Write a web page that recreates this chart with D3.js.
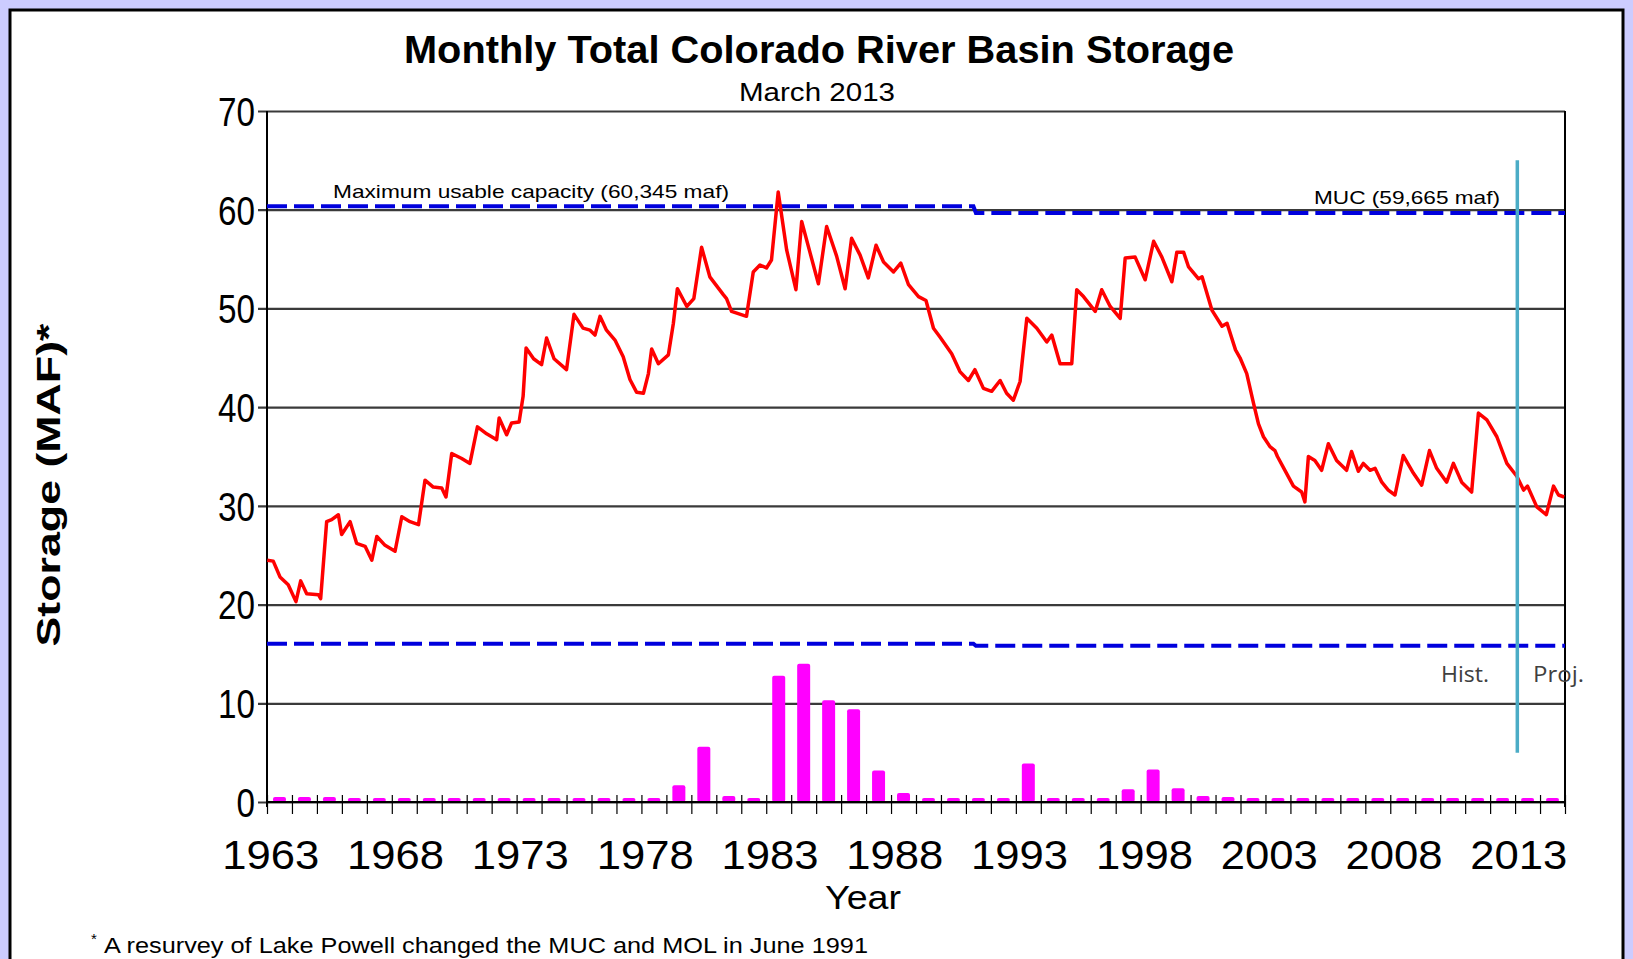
<!DOCTYPE html>
<html>
<head>
<meta charset="utf-8">
<script src="https://cdn.jsdelivr.net/npm/d3@7"></script>
<style>
  body { margin: 0; background: #ccccff; overflow: hidden; }
  text { font-family: "Liberation Sans", Arial, sans-serif; fill: #000; }
</style>
</head>
<body>
<div id="chart"></div>
<script>
'use strict';

// one bar per year, 1963 - 2014
var barYears = d3.range(1963, 2015);
var barValues = [
  0.5, 0.5, 0.5, 0.4, 0.4, 0.4, 0.4, 0.4, 0.4, 0.4,
  0.4, 0.4, 0.4, 0.4, 0.4, 0.4, 1.7, 5.6, 0.6, 0.4,
  12.8, 14.0, 10.3, 9.4, 3.2, 0.9, 0.4, 0.4, 0.4, 0.4,
  3.9, 0.4, 0.4, 0.4, 1.3, 3.3, 1.4, 0.6, 0.5, 0.4,
  0.4, 0.4, 0.4, 0.4, 0.4, 0.4, 0.4, 0.4, 0.4, 0.4,
  0.4, 0.4
];

// monthly storage trace, decimal year and maf
var storageYears = [
  1963.01, 1963.25, 1963.52, 1963.85, 1964.16, 1964.35, 1964.59, 1965.06, 1965.15, 1965.39,
  1965.59, 1965.86, 1965.99, 1966.33, 1966.59, 1966.93, 1967.20, 1967.40, 1967.73, 1968.13,
  1968.40, 1968.73, 1969.07, 1969.33, 1969.66, 1970.00, 1970.17, 1970.40, 1970.80, 1971.13,
  1971.43, 1971.80, 1972.20, 1972.30, 1972.60, 1972.80, 1973.10, 1973.26, 1973.38, 1973.68,
  1974.00, 1974.20, 1974.50, 1975.00, 1975.30, 1975.66, 1975.94, 1976.14, 1976.34, 1976.60,
  1976.94, 1977.27, 1977.54, 1977.81, 1978.08, 1978.28, 1978.41, 1978.68, 1979.08, 1979.28,
  1979.44, 1979.82, 1980.10, 1980.41, 1980.74, 1981.28, 1981.41, 1981.61, 1982.21, 1982.48,
  1982.75, 1983.01, 1983.21, 1983.48, 1983.82, 1984.19, 1984.42, 1984.76, 1985.09, 1985.42,
  1985.82, 1986.16, 1986.42, 1986.76, 1987.09, 1987.40, 1987.70, 1988.10, 1988.39, 1988.70,
  1989.10, 1989.40, 1989.70, 1989.96, 1990.43, 1990.76, 1991.10, 1991.36, 1991.70, 1992.03,
  1992.37, 1992.63, 1992.90, 1993.17, 1993.44, 1993.84, 1994.24, 1994.44, 1994.77, 1995.24,
  1995.44, 1995.71, 1996.18, 1996.44, 1996.78, 1997.18, 1997.38, 1997.78, 1998.18, 1998.52,
  1998.85, 1999.25, 1999.45, 1999.72, 1999.92, 2000.32, 2000.46, 2000.86, 2001.26, 2001.46,
  2001.80, 2001.98, 2002.25, 2002.52, 2002.72, 2002.92, 2003.18, 2003.38, 2003.48, 2003.78,
  2004.12, 2004.45, 2004.58, 2004.72, 2004.98, 2005.25, 2005.52, 2005.85, 2006.25, 2006.45,
  2006.72, 2006.92, 2007.19, 2007.39, 2007.66, 2007.92, 2008.19, 2008.52, 2008.93, 2009.26,
  2009.57, 2009.86, 2010.26, 2010.53, 2010.86, 2011.26, 2011.53, 2011.87, 2012.27, 2012.67,
  2013.07, 2013.34, 2013.50, 2013.87, 2014.25, 2014.54, 2014.74, 2014.97
];
var storageMaf = [
  24.5, 24.4, 22.8, 22.0, 20.3, 22.4, 21.1, 21.0, 20.6, 28.4,
  28.6, 29.1, 27.1, 28.4, 26.2, 25.9, 24.5, 26.9, 26.0, 25.4,
  28.9, 28.4, 28.1, 32.6, 31.9, 31.8, 30.9, 35.3, 34.8, 34.3,
  38.0, 37.3, 36.7, 38.9, 37.2, 38.4, 38.5, 41.1, 46.0, 44.9,
  44.3, 47.0, 44.9, 43.8, 49.4, 48.0, 47.8, 47.3, 49.2, 47.8,
  46.8, 45.1, 42.8, 41.5, 41.4, 43.4, 45.9, 44.4, 45.3, 48.5,
  52.0, 50.2, 51.0, 56.2, 53.2, 51.4, 51.0, 49.7, 49.2, 53.7,
  54.4, 54.1, 54.9, 61.8, 55.9, 51.9, 58.8, 55.6, 52.5, 58.3,
  55.3, 52.0, 57.1, 55.4, 53.1, 56.4, 54.7, 53.7, 54.6, 52.4,
  51.2, 50.8, 48.0, 47.1, 45.4, 43.6, 42.7, 43.8, 41.9, 41.6,
  42.7, 41.4, 40.7, 42.6, 49.0, 48.0, 46.6, 47.3, 44.4, 44.4,
  51.9, 51.2, 49.7, 51.9, 50.2, 49.0, 55.1, 55.2, 52.9, 56.8,
  55.2, 52.7, 55.7, 55.7, 54.2, 53.0, 53.2, 49.8, 48.2, 48.5,
  45.8, 45.0, 43.4, 40.4, 38.3, 37.0, 36.0, 35.6, 35.0, 33.6,
  32.0, 31.4, 30.4, 35.0, 34.6, 33.6, 36.3, 34.6, 33.6, 35.5,
  33.5, 34.3, 33.6, 33.8, 32.4, 31.6, 31.1, 35.1, 33.3, 32.1,
  35.6, 33.8, 32.4, 34.3, 32.4, 31.4, 39.4, 38.7, 37.0, 34.3,
  33.0, 31.6, 32.0, 29.9, 29.1, 32.0, 31.1, 30.9
];

// capacity lines, stepped by the 1991 Lake Powell resurvey
var mucYears = [1963, 1991.3, 1991.4, 2015];
var mucMaf = [60.345, 60.345, 59.665, 59.665];
var molYears = [1963, 1991.3, 1991.4, 2015];
var molMaf = [16.03, 16.03, 15.82, 15.82];

var yTicks = [0, 10, 20, 30, 40, 50, 60, 70];
var yearLabels = [1963, 1968, 1973, 1978, 1983, 1988, 1993, 1998, 2003, 2008, 2013];

// historic / projected split (March 2013)
var splitYear = 2013.09;
var splitRange = [5, 65];

var W = 1633, H = 959;
var margin = { left: 267, right: 1565, top: 111, bottom: 802 };

var svg = d3.select('#chart')
  .append('svg')
    .attr('width', W)
    .attr('height', H);

// lavender frame and white slide panel
svg.append('rect')
    .attr('width', W)
    .attr('height', H)
    .style('fill', '#ccccff');
svg.append('rect')
    .attr('x', 10)
    .attr('y', 10)
    .attr('width', 1613)
    .attr('height', H + 10)
    .style('fill', '#fff')
    .style('stroke', '#000')
    .style('stroke-width', 3);

var x = d3.scaleLinear()
    .domain([1963, 2015])
    .range([margin.left, margin.right]);
var y = d3.scaleLinear()
    .domain([0, 70])
    .range([margin.bottom, margin.top]);

// horizontal gridlines plus outer ticks
var yAxis = svg.append('g')
    .attr('transform', 'translate(' + margin.left + ',0)')
    .call(d3.axisLeft(y)
      .tickValues(yTicks)
      .tickSize(-(margin.right - margin.left))
      .tickFormat(''));
yAxis.select('.domain').remove();
yAxis.selectAll('.tick line')
    .attr('x1', -9)
    .style('stroke', '#3a3a3a')
    .style('stroke-width', 2.2);

// y tick labels, narrow like the original (about 18.5px per digit)
yAxis.selectAll('.tick')
  .append('text')
    .attr('x', -12)
    .attr('dy', '0.36em')
    .attr('text-anchor', 'end')
    .attr('textLength', function (d) { return String(d).length * 18.5; })
    .attr('lengthAdjust', 'spacingAndGlyphs')
    .style('font-size', '40px')
    .style('fill', '#000')
    .text(function (d) { return d; });

// x ticks at year boundaries
var xAxis = svg.append('g')
    .attr('transform', 'translate(0,' + margin.bottom + ')')
    .call(d3.axisBottom(x)
      .tickValues(d3.range(1963, 2016))
      .tickSize(12)
      .tickFormat(''));
xAxis.select('.domain').remove();
xAxis.selectAll('.tick line')
    .attr('y1', -7)
    .style('stroke', '#000')
    .style('stroke-width', 1.2);

// year labels
svg.append('g').selectAll('text')
    .data(yearLabels)
  .enter().append('text')
    .attr('x', function (d) { return x(d + 0.15); })
    .attr('y', 869)
    .attr('text-anchor', 'middle')
    .attr('textLength', 97)
    .attr('lengthAdjust', 'spacingAndGlyphs')
    .style('font-size', '41px')
    .text(function (d) { return d; });

// bars
svg.append('g').selectAll('rect')
    .data(barValues)
  .enter().append('rect')
    .attr('x', function (d, i) { return x(barYears[i] + 0.5) - 6.5; })
    .attr('y', function (d) { return y(d); })
    .attr('width', 13)
    .attr('height', function (d) { return y(0) - y(d); })
    .attr('rx', 2)
    .style('fill', '#ff00ff');

// plot frame: left axis, right edge, zero line
svg.append('line')
    .attr('x1', margin.left).attr('x2', margin.left)
    .attr('y1', margin.top).attr('y2', margin.bottom + 5)
    .style('stroke', '#000').style('stroke-width', 2);
svg.append('line')
    .attr('x1', margin.right).attr('x2', margin.right)
    .attr('y1', margin.top).attr('y2', margin.bottom + 5)
    .style('stroke', '#000').style('stroke-width', 2);
svg.append('line')
    .attr('x1', margin.left).attr('x2', margin.right)
    .attr('y1', y(0)).attr('y2', y(0))
    .style('stroke', '#000').style('stroke-width', 2);

// capacity dashed lines
var stepLine = d3.line()
    .x(function (d) { return x(d[0]); })
    .y(function (d) { return y(d[1]); });

svg.append('path')
    .datum(d3.zip(mucYears, mucMaf))
    .attr('d', stepLine)
    .style('fill', 'none')
    .style('stroke', '#0000dd')
    .style('stroke-width', 4)
    .style('stroke-dasharray', '20,7');
svg.append('path')
    .datum(d3.zip(molYears, molMaf))
    .attr('d', stepLine)
    .style('fill', 'none')
    .style('stroke', '#0000dd')
    .style('stroke-width', 4)
    .style('stroke-dasharray', '20,7');

// storage line
svg.append('path')
    .datum(d3.zip(storageYears, storageMaf))
    .attr('d', stepLine)
    .style('fill', 'none')
    .style('stroke', '#ff0000')
    .style('stroke-width', 3.5)
    .style('stroke-linejoin', 'round');

// hist / proj divider
svg.append('line')
    .attr('x1', x(splitYear)).attr('x2', x(splitYear))
    .attr('y1', y(splitRange[1])).attr('y2', y(splitRange[0]))
    .style('stroke', '#4bacc6')
    .style('stroke-width', 3.5);

svg.append('text')
    .attr('x', 1441)
    .attr('y', 682)
    .attr('textLength', 48)
    .attr('lengthAdjust', 'spacingAndGlyphs')
    .style('font-family', '"Open Sans", sans-serif')
    .style('font-size', '22px')
    .style('fill', '#404040')
    .text('Hist.');
svg.append('text')
    .attr('x', 1533)
    .attr('y', 682)
    .attr('textLength', 51)
    .attr('lengthAdjust', 'spacingAndGlyphs')
    .style('font-family', '"Open Sans", sans-serif')
    .style('font-size', '22px')
    .style('fill', '#404040')
    .text('Proj.');

// capacity labels
svg.append('text')
    .attr('x', 333)
    .attr('y', 198)
    .attr('textLength', 396)
    .attr('lengthAdjust', 'spacingAndGlyphs')
    .style('font-size', '19px')
    .text('Maximum usable capacity (60,345 maf)');
svg.append('text')
    .attr('x', 1314)
    .attr('y', 204)
    .attr('textLength', 186)
    .attr('lengthAdjust', 'spacingAndGlyphs')
    .style('font-size', '19px')
    .text('MUC (59,665 maf)');

// titles
svg.append('text')
    .attr('x', 819)
    .attr('y', 63)
    .attr('text-anchor', 'middle')
    .attr('textLength', 830)
    .attr('lengthAdjust', 'spacingAndGlyphs')
    .style('font-size', '39px')
    .style('font-weight', 'bold')
    .text('Monthly Total Colorado River Basin Storage');
svg.append('text')
    .attr('x', 817)
    .attr('y', 101)
    .attr('text-anchor', 'middle')
    .attr('textLength', 156)
    .attr('lengthAdjust', 'spacingAndGlyphs')
    .style('font-size', '26px')
    .text('March 2013');

svg.append('text')
    .attr('x', 863)
    .attr('y', 909)
    .attr('text-anchor', 'middle')
    .attr('textLength', 76)
    .attr('lengthAdjust', 'spacingAndGlyphs')
    .style('font-size', '33px')
    .text('Year');

svg.append('text')
    .attr('transform', 'translate(60,485) rotate(-90)')
    .attr('text-anchor', 'middle')
    .attr('textLength', 323)
    .attr('lengthAdjust', 'spacingAndGlyphs')
    .style('font-size', '34px')
    .style('font-weight', 'bold')
    .text('Storage (MAF)*');

// footnote
svg.append('text')
    .attr('x', 91)
    .attr('y', 944)
    .style('font-size', '15px')
    .text('*');
svg.append('text')
    .attr('x', 104)
    .attr('y', 953)
    .attr('textLength', 764)
    .attr('lengthAdjust', 'spacingAndGlyphs')
    .style('font-size', '22px')
    .text('A resurvey of Lake Powell changed the MUC and MOL in June 1991');
</script>
</body>
</html>
